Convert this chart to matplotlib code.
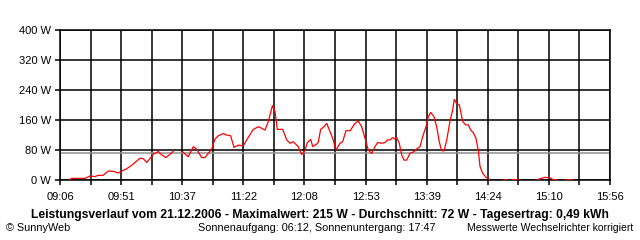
import numpy as np
import matplotlib
matplotlib.use("Agg")
import matplotlib.pyplot as plt

# time in minutes after midnight, power in W (NaN = no data)
nan = np.nan
minutes = [553.5, 554.7, 564.6, 568.4, 572.1, 574.3, 578.1, 582.0, 585.7, 589.5,
           592.0, 595.7, 599.4, 605.6, 608.1, 610.6, 612.6, 615.6, 619.3, 621.8,
           625.0, 627.5, 630.5, 634.0,
           637.5, 641.6, 645.4, 647.9, 651.6, 654.1, 656.5, 659.1, 661.5, 664.0,
           667.7, 670.2, 673.2, 675.7, 678.9, 682.6, 686.4, 690.1, 693.8, 696.4,
           698.8, 701.3, 704.3, 706.3, 708.0, 712.0, 715.0, 717.5, 719.9, 723.6,
           726.1, 728.6, 730.4, 732.9, 734.4, 737.4, 738.5, 740.3, 742.8, 744.8,
           747.3, 749.7, 751.7, 754.7, 756.7, 759.2, 762.2, 765.9, 768.4, 770.9,
           773.4, 775.8, 778.4, 780.8, 782.8, 785.8, 788.3, 790.0, 792.0, 794.0,
           795.7, 797.0, 798.9, 800.7, 802.4, 804.4, 806.9, 810.1, 812.3, 814.4,
           816.4, 818.8, 820.6, 822.3, 824.8, 826.8, 828.7, 830.5, 832.3, 834.3,
           836.7, 838.7, 839.9, 841.7, 843.7, 846.2, 848.4, 850.4, 852.2, 854.1,
           856.1, 857.8, 859.1, 861.1, 863.6, 866.0, 870.0,
           877.0, 879.2, 881.0,
           882.9, 887.4, 895.0,
           901.6, 904.6, 907.5, 911.3, 913.5, 916.5, 920.0,
           923.2, 927.7]
power = [1.8, 4.4, 4.4, 10.7, 9, 12.4, 12.4, 24, 23, 18.7,
         24, 30, 39, 58, 57, 47, 55, 69, 76, 67,
         60, 67, 77, nan,
         75, 62, 89, 82, 60, 60, 71, 82, 109, 118,
         124, 120, 118, 87, 93, 91, 114, 135, 142, 138,
         133, 156, 198, 182, 135, 135, 107, 98, 102, 89,
         68, 78, 100, 108, 89, 96, 100, 135, 142, 151,
         129, 107, 80, 98, 102, 132, 131, 151, 157, 142,
         111, 80, 71, 89, 100, 98, 100, 107, 107, 113,
         109, 113, 98, 67, 53, 53, 71, 76, 84, 89,
         116, 142, 169, 180, 169, 142, 102, 78, 78, 107,
         156, 187, 215, 204, 200, 156, 147, 147, 133, 126,
         111, 80, 36, 18, 7, 2, nan,
         1, 1, nan,
         1, 1, nan,
         1, 4, 7, 6, 1, 1, nan,
         1, 1]
average = 72

t_start, t_end = 546, 956  # 09:06 .. 15:56
n_grid = 18
tick_pos = np.linspace(t_start, t_end, n_grid + 1)
tick_labels = ["09:06", "09:51", "10:37", "11:22", "12:08", "12:53",
               "13:39", "14:24", "15:10", "15:56"]
y_ticks = [0, 80, 160, 240, 320, 400]
y_labels = ["0 W", "80 W", "160 W", "240 W", "320 W", "400 W"]

title = ("Leistungsverlauf vom 21.12.2006 - Maximalwert: 215 W - "
         "Durchschnitt: 72 W - Tagesertrag: 0,49 kWh")

plt.rcParams['font.family'] = ['Liberation Sans', 'DejaVu Sans']

fig = plt.figure(figsize=(6.4, 2.4), dpi=100)
ax = fig.add_axes([60 / 640, 60 / 240, 550 / 640, 150 / 240])
ax.set_xlim(t_start, t_end)
ax.set_ylim(0, 400)

lw = 1.1
for y in y_ticks:
    ax.axhline(y, color="black", lw=lw, zorder=1)
for x in tick_pos:
    ax.axvline(x, color="black", lw=lw, zorder=1)
ax.axhline(average, color="#909090", lw=lw, zorder=2)

ax.plot(minutes, power, color="#ff0000", lw=0.9, zorder=3)

ax.set_xticks(tick_pos)
lbls = []
for i in range(len(tick_pos)):
    lbls.append(tick_labels[i // 2] if i % 2 == 0 else "")
ax.set_xticklabels(lbls)
ax.set_yticks(y_ticks)
ax.set_yticklabels(y_labels)
ax.tick_params(axis="both", direction="out", length=3.6, width=lw,
               color="black", labelsize=8, labelcolor="black")
ax.tick_params(axis="x", pad=5)
ax.tick_params(axis="y", pad=3)
for s in ax.spines.values():
    s.set_linewidth(lw)
    s.set_color("black")

fig.text(320 / 640, (240 - 215) / 240, title, ha="center", va="center",
         fontsize=8.7, fontweight="bold")
fig.text(6 / 640, (240 - 228) / 240, "\u00a9 SunnyWeb", ha="left", va="center",
         fontsize=7.8)
fig.text(435 / 640, (240 - 228) / 240,
         "Sonnenaufgang: 06:12, Sonnenuntergang: 17:47",
         ha="right", va="center", fontsize=7.8)
fig.text(633 / 640, (240 - 228) / 240, "Messwerte Wechselrichter korrigiert",
         ha="right", va="center", fontsize=7.5)

fig.savefig("out.png", dpi=100, facecolor="white")
